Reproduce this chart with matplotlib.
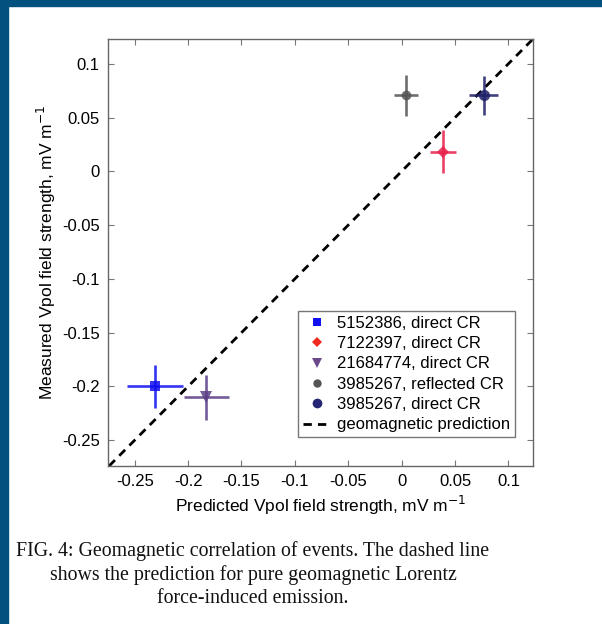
import matplotlib
matplotlib.use("Agg")
import matplotlib.pyplot as plt
from matplotlib.patches import Rectangle

plt.rcParams['font.family'] = ['Liberation Sans', 'DejaVu Sans']
plt.rcParams['axes.unicode_minus'] = False

labels = ["5152386, direct CR", "7122397, direct CR", "21684774, direct CR",
          "3985267, reflected CR", "3985267, direct CR"]
pred = [-0.231, 0.039, -0.183, 0.004, 0.077]
meas = [-0.200, 0.018, -0.210, 0.0705, 0.0705]
pred_err = [0.026, 0.012, 0.021, 0.0115, 0.0135]
meas_err = [0.020, 0.020, 0.021, 0.019, 0.018]
markers = ["s", "D", "v", "o", "o"]
colors = ["#1010f0", "#e8214c", "#5b3f86", "#555555", "#20206a"]
legend_colors = ["#1010f0", "#f02a20", "#6a4a8a", "#555555", "#252575"]
msizes = [7, 6, 8, 7, 8]

xticks = [-0.25, -0.2, -0.15, -0.1, -0.05, 0, 0.05, 0.1]
yticks = [-0.25, -0.2, -0.15, -0.1, -0.05, 0, 0.05, 0.1]
xtick_labels = ["-0.25", "-0.2", "-0.15", "-0.1", "-0.05", "0", "0.05", "0.1"]
ytick_labels = ["-0.25", "-0.2", "-0.15", "-0.1", "-0.05", "0", "0.05", "0.1"]

fig = plt.figure(figsize=(6.02, 6.24), dpi=100)
fig.patch.set_facecolor("white")

# blue frame on top and left
frame_col = "#02517e"
fig.add_artist(Rectangle((0, 1 - 6 / 624), 1, 6 / 624, transform=fig.transFigure,
                         color=frame_col, zorder=10))
fig.add_artist(Rectangle((0, 0), 8 / 602, 1, transform=fig.transFigure,
                         color=frame_col, zorder=10))

ax = fig.add_axes([108 / 602, 1 - 466 / 624, 425 / 602, 427 / 624])

for i in range(len(labels)):
    ax.errorbar(pred[i], meas[i], xerr=pred_err[i], yerr=meas_err[i],
                fmt=markers[i], color=colors[i], ms=msizes[i], mew=0,
                elinewidth=1.9, capsize=0, alpha=0.85, zorder=3)

for i in range(len(labels)):
    ax.plot([], [], linestyle="none", marker=markers[i], color=legend_colors[i],
            ms=msizes[i] - 1, mew=0, label=labels[i])

ax.axline((0, 0), slope=1, color="black", lw=2, linestyle=(0, (3, 2.2)),
          label="geomagnetic prediction", zorder=2)

ax.set_xlim(-0.275, 0.123)
ax.set_ylim(-0.274, 0.123)
ax.set_xticks(xticks)
ax.set_xticklabels(xtick_labels)
ax.set_yticks(yticks)
ax.set_yticklabels(ytick_labels)
ax.tick_params(direction="in", length=4, width=0.8, labelsize=12,
               top=True, right=True, color="#777777", pad=6)
for s in ax.spines.values():
    s.set_color("#666666")
    s.set_linewidth(1.0)

ax.set_xlabel("Predicted Vpol field strength, mV m$^{-1}$", fontsize=12.5, labelpad=3)
ax.set_ylabel("Measured Vpol field strength, mV m$^{-1}$", fontsize=12.5, labelpad=3)

leg = ax.legend(loc="lower right", bbox_to_anchor=(0.958, 0.067), fontsize=12,
                frameon=True, fancybox=False, edgecolor="#555555",
                handlelength=1.7, handletextpad=0.35, labelspacing=0.32,
                borderpad=0.3, borderaxespad=0)
leg.get_frame().set_linewidth(1.0)

caption = ("FIG. 4: Geomagnetic correlation of events. The dashed line\n"
           "shows the prediction for pure geomagnetic Lorentz\n"
           "force-induced emission.")
fig.text(253 / 602, 1 - 541 / 624, caption, ha="center", va="top",
         fontsize=14.3, family=["Liberation Serif", "DejaVu Serif"],
         linespacing=1.3, color="#111111")

fig.savefig("out.png", dpi=100, facecolor="white")
